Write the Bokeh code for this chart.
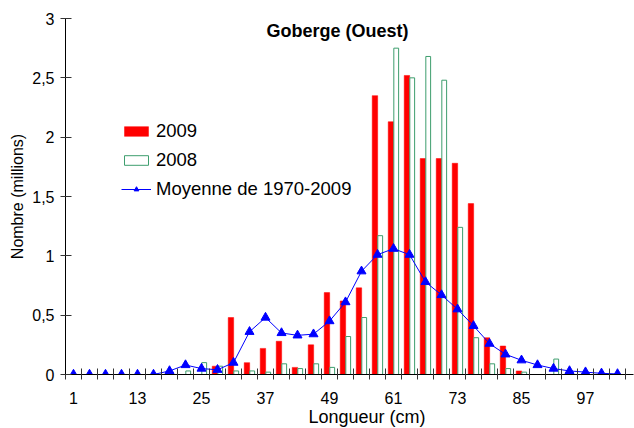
from bokeh.plotting import figure
from bokeh.models import (Range1d, FixedTicker, CustomJSTickFormatter, Legend, LegendItem,
                          Label, ColumnDataSource, Title)
from bokeh.transform import dodge
from bokeh.embed import file_html
from bokeh.resources import INLINE

# ---- data ----
lengths = [1, 4, 7, 10, 13, 16, 19, 22, 25, 28, 31, 34, 37, 40, 43, 46, 49, 52, 55, 58,
           61, 64, 67, 70, 73, 76, 79, 82, 85, 88, 91, 94, 97, 100, 103]
y2009 = [0, 0, 0, 0, 0, 0, 0, 0, 0, 0.07, 0.48, 0.10, 0.22, 0.28, 0.06, 0.25, 0.69, 0.62,
         0.73, 2.35, 2.13, 2.52, 1.82, 1.82, 1.78, 1.44, 0.31, 0.24, 0.03, 0, 0, 0, 0, 0, 0]
y2008 = [0, 0, 0, 0, 0, 0, 0, 0.03, 0.10, 0.07, 0.03, 0.03, 0.02, 0.09, 0.05, 0.09, 0.06,
         0.32, 0.48, 1.17, 2.75, 2.50, 2.68, 2.48, 1.24, 0.31, 0.09, 0.05, 0.02, 0, 0.13,
         0, 0, 0, 0]
mean_1970_2009 = [0, 0, 0, 0, 0, 0, 0.03, 0.08, 0.05, 0.04, 0.10, 0.36, 0.48, 0.35, 0.33,
                  0.34, 0.45, 0.61, 0.87, 1.01, 1.06, 1.01, 0.78, 0.67, 0.55, 0.41, 0.26,
                  0.17, 0.12, 0.08, 0.05, 0.03, 0.02, 0.01, 0.005]
tick_labels = ["1", "13", "25", "37", "49", "61", "73", "85", "97"]

idx = list(range(len(lengths)))
src = ColumnDataSource(dict(x=idx, y2009=y2009, y2008=y2008, mean=mean_1970_2009))

FONT = "Liberation Sans"

p = figure(width=634, height=428, x_range=Range1d(-0.5, 35.0), y_range=Range1d(0, 3),
           output_backend="svg", toolbar_location=None,
           min_border_left=65, min_border_right=1, min_border_top=18, min_border_bottom=53)
p.outline_line_color = None
p.xgrid.visible = False
p.ygrid.visible = False
p.background_fill_color = "white"

r09 = p.vbar(x=dodge("x", -0.16, range=p.x_range), top="y2009", width=0.34, source=src,
             fill_color="#FF0000", line_color="#FF0000", line_width=0.5)
r08 = p.vbar(x=dodge("x", 0.17, range=p.x_range), top="y2008", width=0.30, source=src,
             fill_color="white", line_color="#3E9E6E", line_width=1)
rl = p.line(x="x", y="mean", source=src, line_color="#0000FF", line_width=1)
rm = p.scatter(x="x", y="mean", source=src, marker="triangle", size=9,
               fill_color="#0000FF", line_color="#0000FF")

# x axis
xa = p.xaxis[0]
label_pos = [lengths.index(int(t)) for t in tick_labels]
xa.ticker = FixedTicker(ticks=label_pos, minor_ticks=[i - 0.5 for i in range(len(lengths) + 1)])
xa.formatter = CustomJSTickFormatter(args=dict(labels=[str(v) for v in lengths]),
                                     code="return labels[Math.round(tick)];")
xa.major_tick_in = 0
xa.major_tick_out = 0
xa.minor_tick_in = 6
xa.minor_tick_out = 5
xa.minor_tick_line_color = "#333333"
xa.axis_line_color = "black"
xa.major_label_text_font = FONT
xa.major_label_text_font_size = "16px"
xa.major_label_text_color = "black"
xa.major_label_standoff = 12

# y axis
ya = p.yaxis[0]
ya.ticker = FixedTicker(ticks=[0, 0.5, 1, 1.5, 2, 2.5, 3])
ya.formatter = CustomJSTickFormatter(code="return tick.toString().replace('.', ',');")
ya.major_tick_in = 6
ya.major_tick_out = 5
ya.minor_tick_line_color = None
ya.major_tick_line_color = "#333333"
ya.axis_line_color = "black"
ya.major_label_text_font = FONT
ya.major_label_text_font_size = "16px"
ya.major_label_text_color = "black"
ya.major_label_standoff = 6
ya.axis_label = "Nombre (millions)"
ya.axis_label_text_font = FONT
ya.axis_label_text_font_size = "16px"
ya.axis_label_text_font_style = "normal"
ya.axis_label_text_color = "black"
ya.axis_label_standoff = 3

# chart title inside the frame
p.add_layout(Label(x=272, y=344, x_units="screen", y_units="screen", text="Goberge (Ouest)",
                   text_font=FONT, text_font_size="18px", text_font_style="bold",
                   text_align="center", text_baseline="middle", text_color="black"))
# x axis title below, offset to the reference position
xt = Title(text="Longueur (cm)", align="left", offset=243, standoff=0,
           vertical_align="top", text_font=FONT, text_font_size="18px",
           text_font_style="normal", text_color="black")
p.add_layout(xt, "below")

legend = Legend(items=[LegendItem(label="2009", renderers=[r09]),
                       LegendItem(label="2008", renderers=[r08]),
                       LegendItem(label="Moyenne de 1970-2009", renderers=[rl, rm])],
                location=(56, 174), orientation="vertical")
legend.glyph_width = 30
legend.glyph_height = 12
legend.label_height = 20
legend.spacing = 7
legend.padding = 0
legend.margin = 0
legend.label_standoff = 5
legend.border_line_color = None
legend.background_fill_alpha = 0
legend.label_text_font = FONT
legend.label_text_font_size = "18.5px"
legend.label_text_color = "black"
p.add_layout(legend, "center")

open("out.html", "w").write(file_html(p, INLINE))
